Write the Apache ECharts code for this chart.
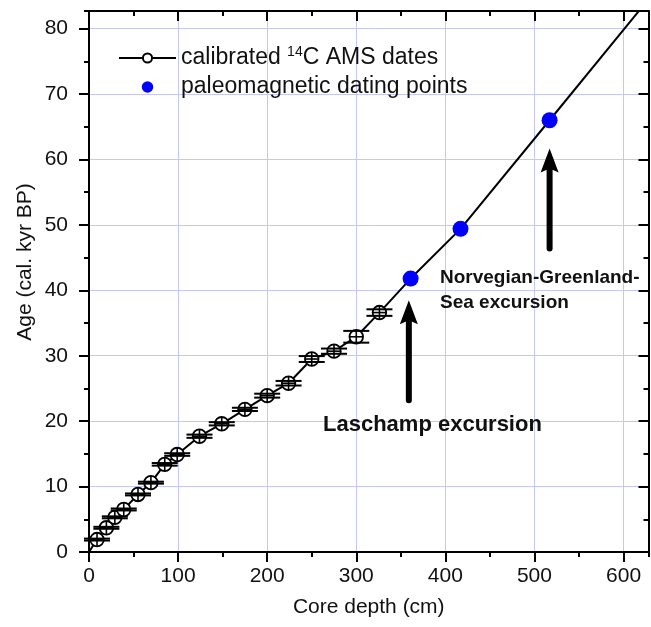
<!DOCTYPE html>
<html>
<head>
<meta charset="utf-8">
<script src="https://cdn.jsdelivr.net/npm/echarts@6/dist/echarts.min.js"></script>
<style>html,body{margin:0;padding:0;background:#fff}#c{width:651px;height:627px}</style>
</head>
<body>
<div id="c"></div>
<script>
// ---- data ----
const amsDepth = [9, 19.5, 29, 39, 55, 69.5, 85, 99, 124, 149, 175, 200, 224, 250, 275, 300, 326];
const amsAge   = [1.9, 3.7, 5.3, 6.5, 8.8, 10.6, 13.4, 14.9, 17.7, 19.6, 21.8, 23.9, 25.8, 29.5, 30.7, 32.9, 36.6];
const amsErr   = [0.15, 0.15, 0.15, 0.15, 0.15, 0.15, 0.2, 0.2, 0.25, 0.25, 0.25, 0.3, 0.35, 0.45, 0.4, 0.9, 0.5];
const pmDepth  = [361, 417, 517];
const pmAge    = [41.8, 49.4, 66.0];
const lineStart = [0, 0];
const lineEnd   = [625, 84.0];
const arrowX    = [359, 517];
const arrowFrom = [23.2, 46.4];
const arrowTo   = [38.5, 61.7];
const xTicks = {min: 0, max: 628, major: 100, minor: 50};
const yTicks = {min: 0, max: 82.7, major: 10, minor: 5};
const seriesNames = ['calibrated {sup|14}C AMS dates', 'paleomagnetic dating points'];

const FONT = "'Liberation Sans', Arial, Helvetica, sans-serif";
const BLACK = '#000';
const TXT = '#111';

const amsData = amsDepth.map((d, i) => [d, amsAge[i], amsErr[i]]);
const pmData = pmDepth.map((d, i) => [d, pmAge[i]]);
const lineData = [lineStart]
  .concat(amsDepth.map((d, i) => [d, amsAge[i]]))
  .concat(pmData)
  .concat([lineEnd]);
const arrowData = arrowX.map((x, i) => [x, arrowFrom[i], arrowTo[i]]);

function mkX(pos, len, inside, interval, showLine, labels, split) {
  return {
    type: 'value', position: pos, min: xTicks.min, max: xTicks.max, interval: interval,
    axisLine: {show: showLine, onZero: false, lineStyle: {color: BLACK, width: 2}},
    axisTick: {show: true, inside: inside, length: len, lineStyle: {color: BLACK, width: 2}},
    axisLabel: {show: labels, showMaxLabel: false, margin: 14, color: TXT, fontSize: 21, fontFamily: FONT},
    splitLine: {show: split, lineStyle: {color: '#c6c6fa', width: 1}}
  };
}
function mkY(pos, len, inside, interval, showLine, labels, split) {
  return {
    type: 'value', position: pos, min: yTicks.min, max: yTicks.max, interval: interval,
    axisLine: {show: showLine, onZero: false, lineStyle: {color: BLACK, width: 2}},
    axisTick: {show: true, inside: inside, length: len, lineStyle: {color: BLACK, width: 2}},
    axisLabel: {show: labels, showMaxLabel: false, margin: 21, color: TXT, fontSize: 21, fontFamily: FONT},
    splitLine: {show: split, lineStyle: {color: '#c6c6fa', width: 1}}
  };
}

const xMain = mkX('bottom', 10, false, xTicks.major, true, true, true);
xMain.name = 'Core depth (cm)';
xMain.nameLocation = 'middle';
xMain.nameGap = 45;
xMain.nameTextStyle = {color: TXT, fontSize: 21, fontFamily: FONT};

const chart = echarts.init(document.getElementById('c'), null, {renderer: 'canvas'});
chart.setOption({
  animation: false,
  backgroundColor: '#fff',
  grid: {left: 89, right: 2.5, top: 11, bottom: 75, containLabel: false},
  xAxis: [
    xMain,
    mkX('bottom', 5, false, xTicks.minor, false, false, false),
    mkX('top', 10, true, xTicks.major, true, false, false),
    mkX('top', 5, true, xTicks.minor, false, false, false)
  ],
  yAxis: [
    mkY('left', 10, false, yTicks.major, true, true, true),
    mkY('left', 5, false, yTicks.minor, false, false, false),
    mkY('right', 10, true, yTicks.major, true, false, false),
    mkY('right', 5, true, yTicks.minor, false, false, false)
  ],
  legend: {
    orient: 'vertical', left: 113, top: 40, itemWidth: 57, itemHeight: 11.5, itemGap: 3,
    data: seriesNames,
    formatter: n => n,
    textStyle: {color: TXT, fontSize: 23, lineHeight: 26, fontFamily: FONT,
      rich: {sup: {fontSize: 14, fontFamily: FONT, color: TXT, verticalAlign: 'top'}}}
  },
  graphic: [
    {type: 'text', x: 25, y: 262, rotation: Math.PI / 2,
     style: {text: 'Age (cal. kyr BP)', align: 'center', verticalAlign: 'middle', fill: TXT,
       font: "21px " + FONT}},
    {type: 'text', x: 323, y: 425, z: 10,
     style: {text: 'Laschamp excursion', align: 'left', verticalAlign: 'middle', fill: '#111',
       font: "bold 22px " + FONT}},
    {type: 'text', x: 440, y: 278, z: 10,
     style: {text: 'Norvegian-Greenland-', align: 'left', verticalAlign: 'middle', fill: '#111',
       font: "bold 19px " + FONT}},
    {type: 'text', x: 440, y: 303, z: 10,
     style: {text: 'Sea excursion', align: 'left', verticalAlign: 'middle', fill: '#111',
       font: "bold 19px " + FONT}}
  ],
  series: [
    {
      name: seriesNames[0], type: 'line', data: lineData, xAxisIndex: 0, yAxisIndex: 0,
      symbol: 'emptyCircle', showSymbol: false, clip: true, z: 2,
      itemStyle: {color: BLACK},
      lineStyle: {color: BLACK, width: 2}
    },
    {
      name: 'ams-markers', type: 'custom', data: amsData, xAxisIndex: 0, yAxisIndex: 0, z: 3,
      encode: {x: 0, y: 1},
      renderItem: function (params, api) {
        const d = api.value(0), a = api.value(1), e = api.value(2);
        const c = api.coord([d, a]);
        const t = api.coord([d, a + e]);
        const b = api.coord([d, a - e]);
        const r = 6.8, cw = 13;
        const st = {stroke: BLACK, lineWidth: 1.6};
        return {type: 'group', children: [
          {type: 'circle', shape: {cx: c[0], cy: c[1], r: r}, style: {fill: '#fff', stroke: BLACK, lineWidth: 1.8}},
          {type: 'line', shape: {x1: c[0], y1: Math.min(t[1], c[1] - r), x2: c[0], y2: Math.max(b[1], c[1] + r)}, style: st},
          {type: 'line', shape: {x1: c[0] - r, y1: c[1], x2: c[0] + r, y2: c[1]}, style: st},
          {type: 'line', shape: {x1: c[0] - cw, y1: t[1], x2: c[0] + cw, y2: t[1]}, style: {stroke: BLACK, lineWidth: 2}},
          {type: 'line', shape: {x1: c[0] - cw, y1: b[1], x2: c[0] + cw, y2: b[1]}, style: {stroke: BLACK, lineWidth: 2}}
        ]};
      }
    },
    {
      name: seriesNames[1], type: 'scatter', data: pmData, xAxisIndex: 0, yAxisIndex: 0, z: 4,
      symbol: 'circle', symbolSize: 16, itemStyle: {color: '#0000ff', opacity: 1}
    },
    {
      name: 'arrows', type: 'custom', data: arrowData, xAxisIndex: 0, yAxisIndex: 0, z: 5,
      encode: {x: 0, y: [1, 2]},
      renderItem: function (params, api) {
        const p0 = api.coord([api.value(0), api.value(1)]);
        const p1 = api.coord([api.value(0), api.value(2)]);
        const hl = 24, hw = 9;
        return {type: 'group', children: [
          {type: 'line', shape: {x1: p0[0], y1: p0[1], x2: p1[0], y2: p1[1] + hl - 4},
           style: {stroke: BLACK, lineWidth: 6, lineCap: 'round'}},
          {type: 'polygon', shape: {points: [[p1[0], p1[1]], [p1[0] + hw, p1[1] + hl], [p1[0], p1[1] + hl - 4], [p1[0] - hw, p1[1] + hl]]},
           style: {fill: BLACK}}
        ]};
      }
    }
  ]
});
</script>
</body>
</html>
